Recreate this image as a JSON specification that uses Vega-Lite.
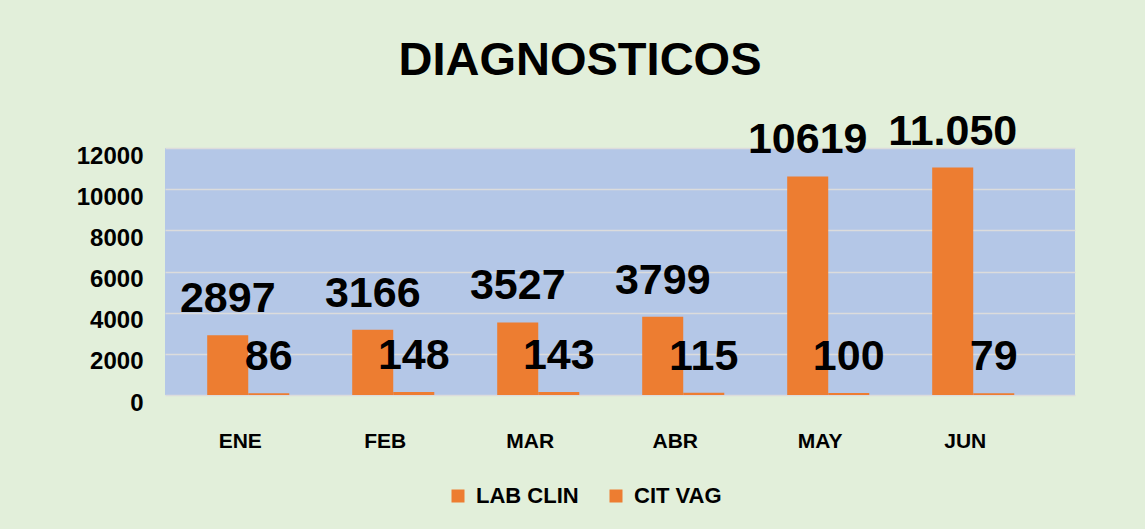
{
  "$schema": "https://vega.github.io/schema/vega-lite/v6.json",
  "width": 910,
  "height": 247,
  "autosize": "none",
  "padding": {"left": 165, "top": 148, "right": 70, "bottom": 134},
  "background": "#E2EFDA",
  "config": {
    "view": {"fill": "#B4C7E7", "stroke": null},
    "font": "Liberation Sans"
  },
  "title": {
    "text": "DIAGNOSTICOS",
    "fontSize": 47,
    "font": "Liberation Sans",
    "fontWeight": "bold",
    "color": "#000000",
    "anchor": "middle",
    "dx": -40,
    "offset": 26
  },
  "data": {
    "values": [
      {"month": "ENE", "series": "LAB CLIN", "value": 2897, "label": "2897"},
      {"month": "ENE", "series": "CIT VAG", "value": 86, "label": "86"},
      {"month": "FEB", "series": "LAB CLIN", "value": 3166, "label": "3166"},
      {"month": "FEB", "series": "CIT VAG", "value": 148, "label": "148"},
      {"month": "MAR", "series": "LAB CLIN", "value": 3527, "label": "3527"},
      {"month": "MAR", "series": "CIT VAG", "value": 143, "label": "143"},
      {"month": "ABR", "series": "LAB CLIN", "value": 3799, "label": "3799"},
      {"month": "ABR", "series": "CIT VAG", "value": 115, "label": "115"},
      {"month": "MAY", "series": "LAB CLIN", "value": 10619, "label": "10619"},
      {"month": "MAY", "series": "CIT VAG", "value": 100, "label": "100"},
      {"month": "JUN", "series": "LAB CLIN", "value": 11050, "label": "11.050"},
      {"month": "JUN", "series": "CIT VAG", "value": 79, "label": "79"}
    ]
  },
  "encoding": {
    "x": {
      "field": "month",
      "type": "nominal",
      "sort": ["ENE", "FEB", "MAR", "ABR", "MAY", "JUN"],
      "scale": {"paddingInner": 0.434, "paddingOuter": 0.355, "align": 0.41},
      "axis": {
        "title": null,
        "labelAngle": 0,
        "domain": false,
        "ticks": false,
        "grid": false,
        "labelPadding": 35,
        "labelOffset": -8,
        "labelFont": "Liberation Sans",
        "labelFontWeight": "bold",
        "labelFontSize": 21,
        "labelColor": "#000000"
      }
    },
    "xOffset": {
      "field": "series",
      "type": "nominal",
      "sort": ["LAB CLIN", "CIT VAG"]
    },
    "y": {
      "field": "value",
      "type": "quantitative",
      "scale": {"domain": [0, 12000], "nice": false},
      "axis": {
        "title": null,
        "values": [0, 2000, 4000, 6000, 8000, 10000, 12000],
        "format": "d",
        "domain": false,
        "ticks": false,
        "labelPadding": 22,
        "labelOffset": 8,
        "labelFont": "Liberation Sans",
        "labelFontWeight": "bold",
        "labelFontSize": 24,
        "labelColor": "#000000",
        "gridColor": "#DCDCDC",
        "gridWidth": 1.5
      }
    }
  },
  "layer": [
    {
      "mark": {"type": "bar", "color": "#ED7D31"},
      "encoding": {
        "color": {
          "field": "series",
          "type": "nominal",
          "scale": {"domain": ["LAB CLIN", "CIT VAG"], "range": ["#ED7D31", "#ED7D31"]},
          "legend": {
            "title": null,
            "orient": "none",
            "legendX": 282,
            "legendY": 337,
            "direction": "horizontal",
            "symbolType": "square",
            "symbolSize": 169,
            "symbolStrokeWidth": 0,
            "labelFont": "Liberation Sans",
            "labelFontWeight": "bold",
            "labelFontSize": 22,
            "labelColor": "#000000",
            "labelOffset": 7,
            "columnPadding": 26
          }
        }
      }
    },
    {
      "mark": {
        "type": "text",
        "baseline": "alphabetic",
        "align": "center",
        "dy": -23,
        "font": "Liberation Sans",
        "fontWeight": "bold",
        "fontSize": 43,
        "color": "#000000"
      },
      "encoding": {
        "text": {"field": "label", "type": "nominal"}
      }
    }
  ]
}
